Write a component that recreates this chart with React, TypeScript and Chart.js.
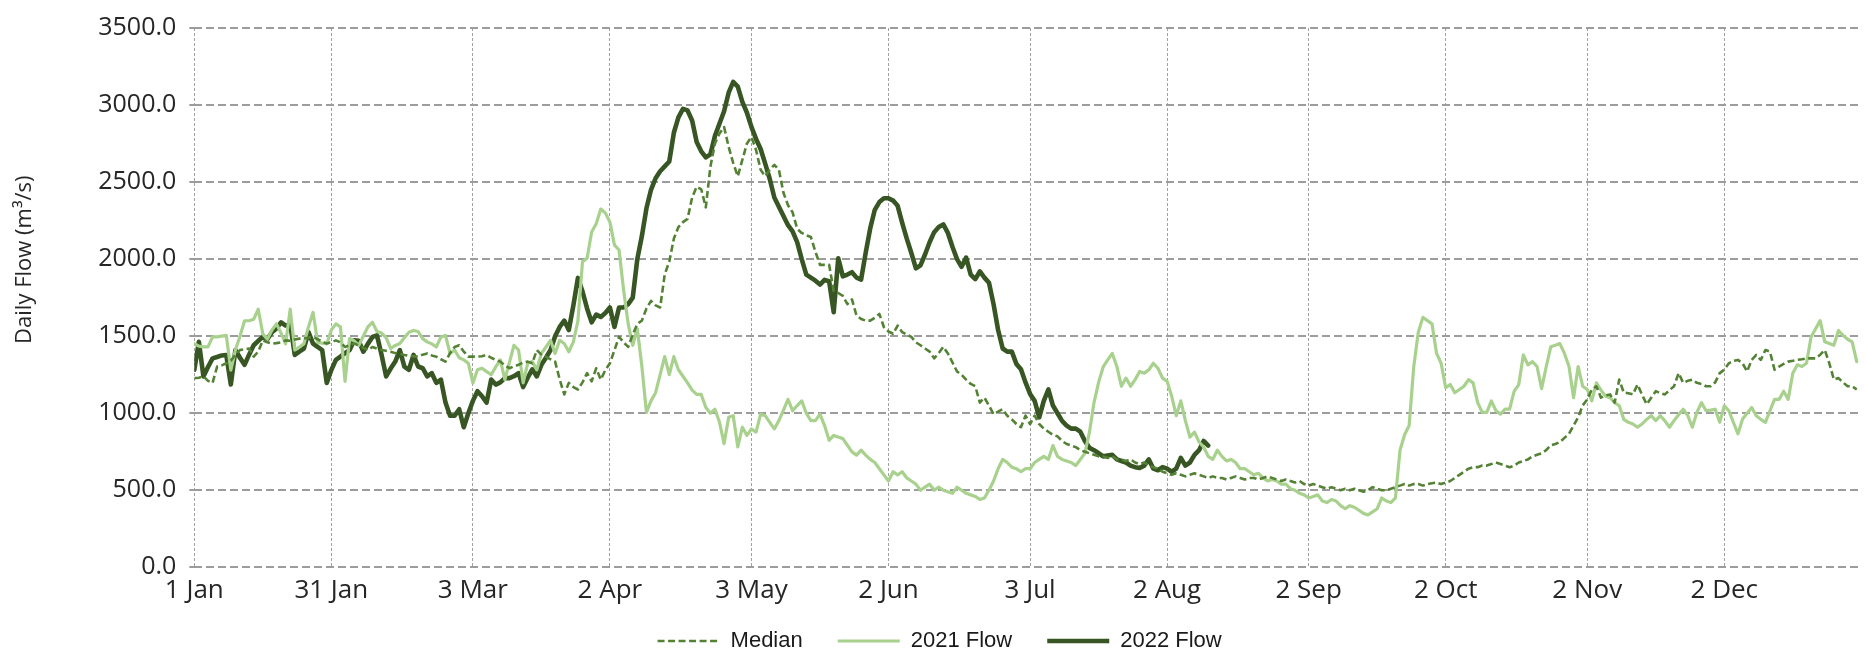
import React, { useEffect, useRef } from 'react';
import { Chart, registerables } from 'chart.js';

Chart.register(...registerables);

// Day-of-year positions (0 = 1 Jan) of the x-axis tick labels
const tickDays = [0, 30, 61, 91, 122, 152, 183, 213, 244, 274, 305, 335];
const tickLabels = ['1 Jan', '31 Jan', '3 Mar', '2 Apr', '3 May', '2 Jun', '3 Jul', '2 Aug', '2 Sep', '2 Oct', '2 Nov', '2 Dec'];
const yMin = 0;
const yMax = 3500;
const yStep = 500;
const seriesLabels = ['Median', '2021 Flow', '2022 Flow'];
const yTitle = 'Daily Flow (m\u00B3/s)';

// Daily values, index = day of year
const median = [
  1228, 1230, 1239, 1210, 1197, 1303, 1310, 1324, 1340, 1380,
  1410, 1415, 1420, 1367, 1400, 1473, 1460, 1452, 1455, 1460,
  1473, 1470, 1478, 1484, 1485, 1490, 1495, 1480, 1465, 1452,
  1460, 1473, 1460, 1430, 1440, 1452, 1440, 1425, 1410, 1430,
  1420, 1410, 1405, 1399, 1390, 1385, 1378, 1372, 1370, 1367,
  1380, 1388, 1375, 1367, 1350, 1335, 1390, 1430, 1441, 1400,
  1367, 1367, 1367, 1370, 1378, 1360, 1345, 1335, 1310, 1292,
  1305, 1314, 1330, 1335, 1324, 1410, 1380, 1367, 1350, 1335,
  1220, 1122, 1197, 1170, 1154, 1200, 1260, 1207, 1292, 1218,
  1280, 1324, 1410, 1495, 1460, 1430, 1510, 1580, 1601, 1680,
  1729, 1700, 1686, 1900, 1984, 2133, 2208, 2240, 2261, 2400,
  2470, 2453, 2336, 2600, 2750, 2815, 2857, 2729, 2623, 2538,
  2644, 2750, 2793, 2708, 2580, 2538, 2580, 2612, 2580, 2431,
  2350, 2304, 2197, 2170, 2155, 2144, 2048, 1963, 1963, 1963,
  1793, 1780, 1761, 1708, 1739, 1633, 1612, 1601, 1601, 1620,
  1644, 1558, 1530, 1516, 1569, 1526, 1510, 1495, 1460, 1441,
  1420, 1400, 1356, 1390, 1431, 1388, 1330, 1271, 1250, 1218,
  1190, 1175, 1069, 1101, 1050, 994, 1010, 1026, 984, 960,
  930, 909, 984, 930, 984, 930, 900, 880, 860, 850,
  820, 800, 790, 780, 760, 750, 740, 730, 720, 720,
  710, 720, 700, 700, 690, 700, 680, 670, 680, 660,
  650, 640, 620, 610, 600, 610, 600, 590, 600, 610,
  600, 590, 580, 590, 580, 580, 570, 580, 590, 580,
  570, 580, 580, 570, 580, 590, 580, 570, 560, 570,
  560, 550, 560, 540, 530, 540, 530, 520, 510, 520,
  510, 500, 510, 500, 510, 500, 490, 500, 520, 510,
  500, 500, 510, 520, 530, 540, 530, 540, 540, 530,
  540, 545, 550, 540, 550, 560, 580, 600, 620, 640,
  650, 650, 660, 660, 670, 680, 670, 660, 650, 660,
  680, 690, 700, 720, 730, 740, 760, 792, 800, 813,
  840, 866, 920, 973, 1050, 1090, 1154, 1175, 1101, 1115,
  1122, 1069, 1218, 1133, 1130, 1122, 1186, 1120, 1058, 1100,
  1143, 1130, 1122, 1150, 1175, 1260, 1197, 1210, 1218, 1197,
  1190, 1175, 1175, 1200, 1260, 1282, 1324, 1340, 1346, 1324,
  1271, 1346, 1378, 1346, 1410, 1399, 1282, 1303, 1320, 1335,
  1340, 1346, 1350, 1356, 1356, 1356, 1380, 1410, 1324, 1218,
  1228, 1200, 1175, 1175, 1154,
];

const flow2021 = [
  1452, 1435, 1430, 1430, 1495, 1495, 1500, 1505, 1280, 1410,
  1500, 1600, 1600, 1610, 1675, 1515, 1480, 1540, 1580, 1520,
  1450, 1675, 1410, 1430, 1450, 1560, 1655, 1460, 1455, 1450,
  1540, 1580, 1560, 1207, 1485, 1470, 1440, 1500, 1560, 1590,
  1530, 1520, 1490, 1420, 1440, 1452, 1490, 1526, 1537, 1530,
  1484, 1463, 1450, 1430, 1495, 1505, 1388, 1410, 1360, 1346,
  1324, 1197, 1282, 1292, 1270, 1250, 1300, 1346, 1218, 1330,
  1441, 1410, 1197, 1324, 1335, 1282, 1388, 1430, 1473, 1388,
  1473, 1452, 1399, 1463, 1601, 1984, 2006, 2176, 2230, 2325,
  2300, 2240, 2091, 2059, 1800, 1580, 1440, 1548, 1303, 1005,
  1080, 1133, 1250, 1367, 1250, 1367, 1282, 1240, 1197, 1150,
  1122, 1122, 1037, 1000, 1026, 941, 803, 973, 984, 781,
  909, 856, 898, 877, 994, 984, 940, 898, 952, 1020,
  1090, 1016, 1050, 1080, 1000, 952, 952, 994, 920, 824,
  856, 845, 835, 792, 749, 728, 760, 728, 700, 680,
  640, 600, 560, 620, 600, 620, 580, 560, 540, 500,
  520, 540, 500, 520, 500, 490, 480, 520, 500, 480,
  470, 460, 440, 450, 500, 560, 640, 700, 680, 650,
  640, 620, 640, 640, 680, 700, 720, 700, 790, 720,
  700, 690, 680, 660, 700, 740, 877, 1069, 1200, 1300,
  1346, 1388, 1303, 1175, 1228, 1175, 1218, 1271, 1260, 1282,
  1324, 1292, 1228, 1207, 1111, 984, 1080, 952, 845, 877,
  813, 781, 720, 700, 760, 720, 690, 700, 680, 640,
  640, 620, 600, 610, 580, 560, 570, 560, 540, 540,
  510, 500, 480, 470, 450, 460, 470, 430, 420, 440,
  430, 400, 380, 400, 390, 370, 350, 340, 360, 380,
  450, 430, 420, 450, 760, 860, 920, 1300, 1526, 1622,
  1601, 1580, 1388, 1324, 1165, 1186, 1133, 1154, 1175, 1218,
  1197, 1069, 1005, 1005, 1080, 1016, 994, 1026, 1026, 1143,
  1186, 1378, 1314, 1335, 1303, 1160, 1300, 1431, 1441, 1452,
  1388, 1303, 1101, 1303, 1175, 1154, 1080, 1197, 1150, 1111,
  1101, 1069, 1048, 960, 941, 930, 909, 930, 960, 984,
  952, 984, 950, 909, 952, 990, 1026, 984, 909, 1005,
  1069, 1016, 1020, 1026, 941, 1048, 1016, 940, 866, 962,
  1000, 1037, 984, 960, 941, 1016, 1090, 1090, 1143, 1090,
  1260, 1314, 1303, 1324, 1495, 1548, 1601, 1463, 1452, 1441,
  1537, 1505, 1480, 1463, 1335,
];

const flow2022 = [
  1282, 1463, 1239, 1300, 1356, 1365, 1375, 1378, 1186, 1410,
  1360, 1314, 1380, 1441, 1470, 1495, 1480, 1526, 1550, 1590,
  1569, 1580, 1378, 1400, 1420, 1526, 1452, 1430, 1410, 1197,
  1280, 1346, 1367, 1390, 1410, 1473, 1470, 1399, 1450, 1495,
  1505, 1380, 1239, 1290, 1335, 1410, 1303, 1282, 1378, 1303,
  1292, 1239, 1260, 1197, 1218, 1069, 984, 984, 1026, 909,
  1000, 1080, 1143, 1110, 1069, 1218, 1186, 1200, 1228, 1228,
  1240, 1260, 1170, 1230, 1285, 1239, 1314, 1360, 1410, 1500,
  1560, 1601, 1540, 1700, 1878, 1790, 1680, 1590, 1640, 1625,
  1650, 1686, 1560, 1686, 1686, 1708, 1750, 2000, 2150, 2330,
  2450, 2525, 2570, 2602, 2634, 2820, 2920, 2975, 2965, 2900,
  2760, 2700, 2660, 2680, 2800, 2880, 2960, 3080, 3150, 3120,
  3020, 2950, 2857, 2780, 2715, 2620, 2520, 2400, 2340, 2280,
  2220, 2180, 2110, 2000, 1900, 1880, 1860, 1835, 1865, 1857,
  1655, 2006, 1888, 1900, 1915, 1880, 1867, 2040, 2200, 2320,
  2370, 2395, 2395, 2380, 2346, 2235, 2133, 2040, 1940, 1960,
  2030, 2110, 2175, 2208, 2225, 2170, 2080, 2000, 1950, 2010,
  1900, 1870, 1920, 1880, 1846, 1708, 1540, 1420, 1400, 1400,
  1320, 1285, 1200, 1125, 1080, 973, 1080, 1154, 1050, 1000,
  950, 920, 900, 900, 880, 820, 775, 760, 740, 720,
  725, 730, 700, 690, 680, 660, 650, 645, 660, 700,
  640, 630, 650, 640, 620, 640, 710, 660, 680, 730,
  760, 820, 790,
];

const yTitlePlugin = {
  id: 'yTitleText',
  afterDraw(chart: any) {
    const { ctx, chartArea } = chart;
    ctx.save();
    ctx.translate(25, (chartArea.top + chartArea.bottom) / 2 - 38);
    ctx.rotate(-Math.PI / 2);
    ctx.font = '22px "Open Sans"';
    ctx.fillStyle = '#262626';
    ctx.textAlign = 'center';
    ctx.textBaseline = 'middle';
    ctx.fillText(yTitle, 0, 0);
    ctx.restore();
  },
};

// nudges the legend row: a little right and up, as in the reference
const legendShiftPlugin = {
  id: 'legendShift',
  afterLayout(chart: any) {
    const lg = chart.legend;
    if (lg) {
      lg.left += 9;
      lg.right += 9;
      lg.top -= 10.3;
      lg.bottom -= 10.3;
    }
  },
};

export default function App() {
  const ref = useRef<HTMLCanvasElement>(null);

  useEffect(() => {
    document.body.style.margin = '0';
    const toXY = (arr: number[]) => arr.map((y, x) => ({ x, y }));
    const chart = new Chart(ref.current as HTMLCanvasElement, {
      type: 'line',
      data: {
        datasets: [
          {
            label: seriesLabels[0],
            data: toXY(median),
            borderColor: '#548235',
            backgroundColor: '#548235',
            borderWidth: 2.6,
            borderDash: [7, 3.5],
            pointRadius: 0,
            tension: 0,
            fill: false,
            borderJoinStyle: 'round',
          },
          {
            label: seriesLabels[1],
            data: toXY(flow2021),
            borderColor: '#A9D18E',
            backgroundColor: '#A9D18E',
            borderWidth: 3.2,
            pointRadius: 0,
            tension: 0,
            fill: false,
            borderJoinStyle: 'round',
            borderCapStyle: 'round',
          },
          {
            label: seriesLabels[2],
            data: toXY(flow2022),
            borderColor: '#375623',
            backgroundColor: '#375623',
            borderWidth: 4.6,
            pointRadius: 0,
            tension: 0,
            fill: false,
            borderJoinStyle: 'round',
            borderCapStyle: 'round',
          },
        ],
      },
      options: {
        responsive: false,
        animation: false,
        events: [],
        layout: { padding: { left: 0, right: 4.7, top: 19.3, bottom: -17.3 } },
        plugins: {
          tooltip: { enabled: false },
          legend: {
            position: 'bottom',
            labels: {
              usePointStyle: true,
              pointStyle: 'line',
              pointStyleWidth: 62,
              padding: 35,
              color: '#1a1a1a',
              font: { family: '"Liberation Sans"', size: 22 },
              generateLabels: (c: any) =>
                c.data.datasets.map((ds: any, i: number) => ({
                  text: ds.label,
                  fillStyle: ds.borderColor,
                  strokeStyle: ds.borderColor,
                  fontColor: '#1a1a1a',
                  lineWidth: ds.borderWidth,
                  lineDash: ds.borderDash || [],
                  lineCap: 'butt',
                  pointStyle: 'line',
                  hidden: false,
                  datasetIndex: i,
                })),
            },
          },
        },
        scales: {
          x: {
            type: 'linear',
            min: 0,
            max: 365,
            afterBuildTicks: (s: any) => {
              s.ticks = tickDays.map((v) => ({ value: v }));
            },
            afterFit: (s: any) => {
              s.height = 38;
            },
            ticks: {
              autoSkip: false,
              maxRotation: 0,
              padding: 8,
              color: '#262626',
              font: { family: '"Open Sans"', size: 26 },
              callback: (v: any) => {
                const i = tickDays.indexOf(Number(v));
                return i >= 0 ? tickLabels[i] : '';
              },
            },
            grid: { color: '#A0A0A0', lineWidth: 1, drawTicks: false },
            border: { display: false, dash: [3, 2] },
          },
          y: {
            min: yMin,
            max: yMax,
            afterFit: (s: any) => {
              s.width = 194.3;
            },
            ticks: {
              stepSize: yStep,
              padding: 13,
              color: '#262626',
              font: { family: '"Open Sans"', size: 25 },
              callback: (v: any) => Number(v).toFixed(1),
            },
            grid: { color: '#9C9C9C', lineWidth: 2, tickLength: 5 },
            border: { display: false, dash: [8, 4] },
          },
        },
      },
      plugins: [yTitlePlugin, legendShiftPlugin],
    });
    return () => chart.destroy();
  }, []);

  return <canvas ref={ref} width={1866} height={655} style={{ display: 'block' }} />;
}
